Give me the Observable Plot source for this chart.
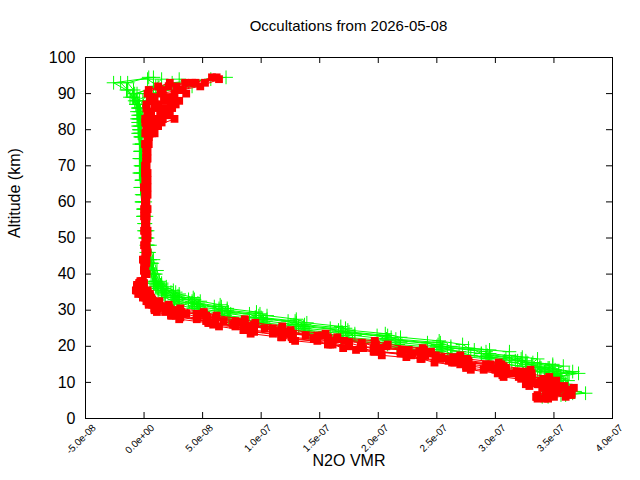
<!DOCTYPE html>
<html>
<head>
<meta charset="utf-8">
<script src="https://cdn.jsdelivr.net/npm/d3@7"></script>
<script src="https://cdn.jsdelivr.net/npm/@observablehq/plot@0.6"></script>
<style>
  html, body { margin: 0; padding: 0; background: #fff; }
  body { font-family: "Liberation Sans", Arial, sans-serif; color: #000; }
  #wrap { position: relative; width: 640px; height: 480px; overflow: hidden; }
  #title { position: absolute; left: 85px; width: 527px; top: 16px; text-align: center; font-size: 15px; line-height: 20px; }
  #chart { position: absolute; left: 0; top: 40px; }
</style>
</head>
<body>
<div id="wrap">
  <div id="title">Occultations from 2026-05-08</div>
  <div id="chart"></div>
</div>
<script>
// Altitude grids (km) used by the occultation profiles
const altGridA = [6,7,8,9,10,11,12,13,14,15,16,17,18,19,20,21,22,23,24,25,26,27,28,29,30,31,32,33,34,35,36,37,38,
  40,43,46,50,54,58,62,66,70,74,78,80,82,84,86,88,90,92,94];
const altGridB = [5.5,6.5,7.5,8.5,9.5,10.5,11.5,12.5,13.5,14.5,15.5,16.5,17.5,18.5,19.5,20.5,21.5,22.5,23.5,24.5,25.5,26.5,27.5,28.5,29.5,30.5,31.5,32.5,33.5,34.5,35.5,36.5,37.5,
  41,44,48,52,56,60,64,68,72,76,79,81,83,85,87,89,91,93,94.5];

// N2O VMR in ppbv (multiplied by 1e-9 when plotted) — red profiles
const red1 = [360,346,362,341,348,322,329,318,294,292,263,254,229,220,185,175,145,138,113,103,76,68,46,36,19,15,6,6,3,0,-3,-6,-2,
  1,2,2,1,2,3,2,1,2,3,4,3,5,4,9,6,14,48,64];
const red2 = [335,365,347,359,343,344,323,327,309,305,277,270,245,239,207,197,165,152,125,118,94,86,61,51,30,21,13,6,5,3,-1,-3,-3,
  2,1,3,2,1,2,3,2,1,2,3,8,15,20,24,18,26,21,null];
const red3 = [335,346,353,329,338,331,306,304,275,270,260,224,219,181,175,160,127,118,94,88,59,53,31,23,9,10,4,3,-1,-4,-5,-3,-1,
  1,0,1,2,1,0,1,2,1,2,4,2,1,3,2,5,3,12,null];
const red4 = [342,365,353,355,337,342,327,331,309,303,277,274,249,235,202,198,171,157,127,117,93,82,61,53,32,22,11,8,5,2,-1,-6,-4,
  0,1,2,2,1,2,3,2,3,4,7,10,26,14,10,20,31,52,62];
const red5 = [336,336,345,352,336,339,320,315,290,293,263,253,240,202,196,159,160,126,124,91,88,56,54,27,25,9,10,3,3,-1,-7,-6,-4,
  0,1,0,1,2,1,0,1,2,1,5,4,8,6,12,9,16,35,null];
const red6 = [null,null,362,367,343,352,346,327,330,307,303,276,270,245,238,208,197,165,155,125,118,95,86,62,51,31,21,13,6,5,3,-1,-3,
  1,2,1,3,2,1,2,3,2,3,9,12,16,22,27,24,29,44,58];
const red7 = [345,343,351,345,326,330,307,302,279,275,248,237,203,196,170,161,129,117,91,85,64,55,30,23,11,9,4,2,-1,-5,-6,-4,0,
  0,-1,1,0,2,1,0,1,2,1,1,2,1,3,2,6,4,22,null];
const red8 = [350,362,349,353,339,341,322,321,300,296,272,264,236,226,197,186,157,148,119,110,85,78,54,45,24,17,9,7,3,1,-2,-5,-3,
  2,1,2,3,1,2,1,3,2,2,3,6,9,14,18,30,36,28,null];
const red9 = [null,347,352,340,347,329,331,309,300,280,265,236,228,197,187,157,148,118,110,85,78,55,45,24,18,9,7,3,1,-2,-6,-3,-1,
  1,0,2,1,0,1,2,1,2,3,5,9,12,19,23,17,33,41,null];

// green profiles
const green1 = [null,366,358,362,350,356,352,342,346,326,326,296,288,259,253,219,207,180,169,137,130,104,95,74,66,47,41,29,25,18,16,11,10,
  9,6,4,2,1,0,-1,-2,-2,-3,-3,-4,-3,-4,-5,-4,-8,12,3];
const green2 = [345,377,360,358,352,355,349,366,345,349,319,323,295,295,262,253,215,208,175,172,137,129,100,99,71,66,46,43,29,27,17,15,13,
  10,7,4,3,1,0,-1,-2,-2,-3,-3,-4,-5,-3,-4,-6,5,41,30];
const green3 = [340,350,355,348,352,344,350,334,338,307,308,292,262,254,218,208,174,168,140,132,103,96,73,67,48,43,30,26,18,15,12,10,8,
  6,4,2,1,0,-1,-2,-2,-3,-3,-2,-4,-3,-5,-4,-8,-6,10,57];
const green4 = [null,356,364,357,360,350,356,363,343,349,327,322,293,292,262,251,219,211,180,166,136,130,105,98,72,64,47,41,30,25,19,15,12,
  8,5,3,2,0,-1,-2,-3,-3,-2,-4,-5,-4,-3,-6,-12,-9,-14,4];
const green5 = [null,360,352,358,354,355,345,354,336,338,314,309,279,269,255,217,209,173,170,138,132,102,101,69,66,46,45,28,27,17,16,11,9,
  7,5,3,1,0,-2,-3,-3,-4,-2,-3,-4,-5,-6,-5,-9,-15,-26,8];
const green6 = [null,null,368,362,358,362,353,371,351,358,332,336,312,312,277,272,252,219,206,174,168,139,130,105,96,71,65,48,42,30,25,19,15,
  11,8,5,3,2,1,0,-1,-2,-2,-3,-2,-4,-1,2,6,14,24,70];
const green7 = [null,338,345,352,344,350,338,349,326,323,297,294,263,252,216,208,178,168,141,130,101,95,72,67,47,42,29,25,18,15,12,10,8,
  5,3,2,0,-1,-2,-3,-4,-3,-4,-5,-3,-6,-4,-7,-10,-14,-20,null];
const green8 = [null,362,358,352,356,349,352,350,339,331,317,312,288,282,250,242,207,199,166,159,128,123,95,90,64,60,41,38,25,23,15,14,10,
  8,6,3,2,1,0,-1,-1,-2,-3,-2,-3,-4,-2,-5,-1,2,8,15];

// axis ticks and labels
const xTicks = [-5e-8, 0, 5e-8, 1e-7, 1.5e-7, 2e-7, 2.5e-7, 3e-7, 3.5e-7, 4e-7];
const xTickLabels = ["-5.0e-08","0.0e+00","5.0e-08","1.0e-07","1.5e-07","2.0e-07","2.5e-07","3.0e-07","3.5e-07","4.0e-07"];
const yTicks = [0,10,20,30,40,50,60,70,80,90,100];

const greenProfiles = [
  {id: "g1", alt: altGridA, v: green1},
  {id: "g2", alt: altGridA, v: green2},
  {id: "g3", alt: altGridA, v: green3},
  {id: "g4", alt: altGridB, v: green4},
  {id: "g5", alt: altGridB, v: green5},
  {id: "g6", alt: altGridB, v: green6},
  {id: "g7", alt: altGridB, v: green7},
  {id: "g8", alt: altGridA, v: green8}
];
const redProfiles = [
  {id: "r1", alt: altGridA, v: red1},
  {id: "r2", alt: altGridA, v: red2},
  {id: "r3", alt: altGridA, v: red3},
  {id: "r4", alt: altGridB, v: red4},
  {id: "r5", alt: altGridB, v: red5},
  {id: "r6", alt: altGridB, v: red6},
  {id: "r7", alt: altGridB, v: red7},
  {id: "r8", alt: altGridA, v: red8},
  {id: "r9", alt: altGridB, v: red9}
];
function toRows(profiles) {
  const rows = [];
  for (const p of profiles) {
    p.v.forEach((val, i) => {
      if (val != null) rows.push({id: p.id, alt: p.alt[i], vmr: val * 1e-9});
    });
  }
  return rows;
}
const greenRows = toRows(greenProfiles);
const redRows = toRows(redProfiles);

const W = 640, H = 440, mL = 85, mR = 28, mT = 17, mB = 62;
const fw = W - mL - mR, fh = H - mT - mB;

const chart = Plot.plot({
  width: W,
  height: H,
  marginLeft: mL,
  marginRight: mR,
  marginTop: mT,
  marginBottom: mB,
  style: {fontFamily: "Liberation Sans, Arial, sans-serif", color: "#000", background: "#fff", overflow: "visible"},
  x: {domain: [-5e-8, 4e-7], nice: false, axis: null},
  y: {domain: [0, 100], nice: false},
  marks: [
    Plot.line(greenRows, {x: "vmr", y: "alt", z: "id", stroke: "#00ff00", strokeWidth: 1}),
    Plot.dot(greenRows, {x: "vmr", y: "alt", symbol: "plus", stroke: "#00ff00", strokeWidth: 1, r: 4.5}),
    Plot.line(redRows, {x: "vmr", y: "alt", z: "id", stroke: "#ff0000", strokeWidth: 1}),
    Plot.dot(redRows, {x: "vmr", y: "alt", symbol: "square", fill: "#ff0000", stroke: "none", r: 4.4}),
    Plot.frame({stroke: "#000", strokeWidth: 1}),
    // inward ticks on all four sides
    Plot.tickX(xTicks, {x: d => d, stroke: "#000", insetTop: fh - 6}),
    Plot.tickX(xTicks, {x: d => d, stroke: "#000", insetBottom: fh - 6}),
    Plot.tickY(yTicks, {y: d => d, stroke: "#000", insetRight: fw - 6}),
    Plot.tickY(yTicks, {y: d => d, stroke: "#000", insetLeft: fw - 6}),
    Plot.axisY(yTicks, {tickSize: 0, tickPadding: 10, fontSize: 16, label: null}),
    Plot.text(xTicks, {x: d => d, text: (d, i) => xTickLabels[i], frameAnchor: "bottom", rotate: -45, textAnchor: "end", dx: 11, dy: 10, fontSize: 10, fill: "#000"}),
    Plot.text(["N2O VMR"], {frameAnchor: "bottom", dy: 47, fontSize: 16, fill: "#000"}),
    Plot.text(["Altitude (km)"], {frameAnchor: "left", dx: -71, rotate: -90, fontSize: 16, fill: "#000"})
  ]
});
document.getElementById("chart").appendChild(chart);
</script>
</body>
</html>
